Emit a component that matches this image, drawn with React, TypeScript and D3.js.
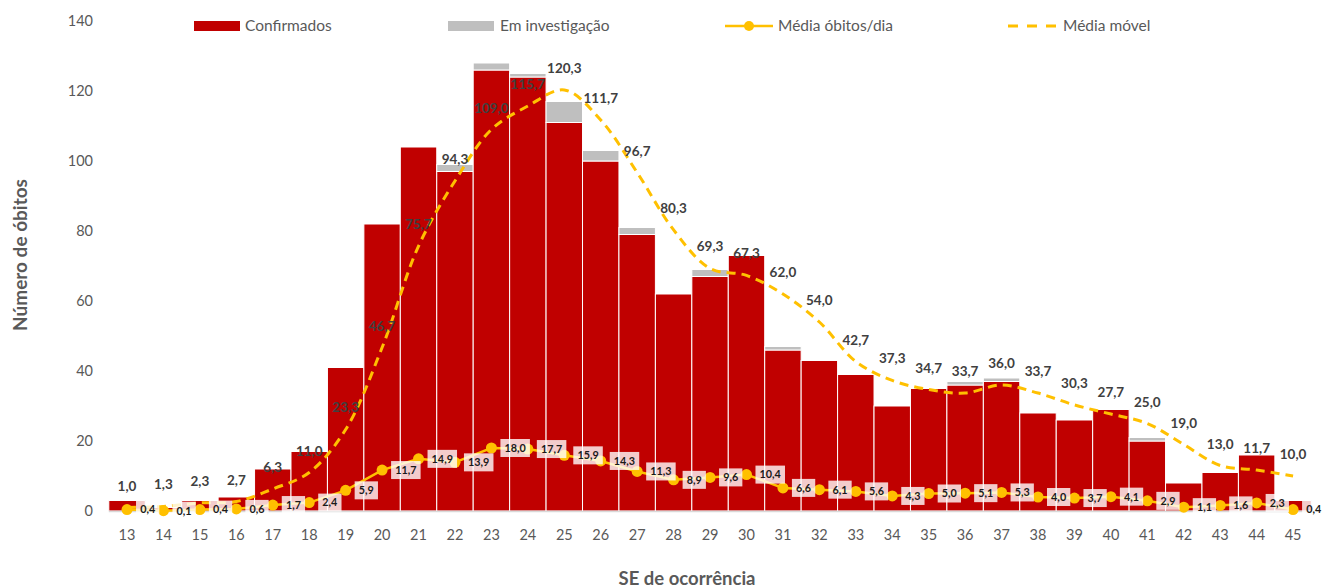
import React from "react";
import * as d3 from "d3";

const weeks = [13,14,15,16,17,18,19,20,21,22,23,24,25,26,27,28,29,30,31,32,33,34,35,36,37,38,39,40,41,42,43,44,45];
const confirmados = [3,1,3,4,12,17,41,82,104,97,126,124,111,100,79,62,67,73,46,43,39,30,35,36,37,28,26,29,20,8,11,16,3];
const investigacao = [0,0,0,0,0,0,0,0,0,2,2,1,6,3,2,0,2,0,1,0,0,0,0,1,1,0,0,0,1,0,0,0,0];
const mediaDia = [0.4,0.1,0.4,0.6,1.7,2.4,5.9,11.7,14.9,13.9,18.0,17.7,15.9,14.3,11.3,8.9,9.6,10.4,6.6,6.1,5.6,4.3,5.0,5.1,5.3,4.0,3.7,4.1,2.9,1.1,1.6,2.3,0.4];
const mediaMovel = [1.0,1.3,2.3,2.7,6.3,11.0,23.3,46.7,75.7,94.3,109.0,115.7,120.3,111.7,96.7,80.3,69.3,67.3,62.0,54.0,42.7,37.3,34.7,33.7,36.0,33.7,30.3,27.7,25.0,19.0,13.0,11.7,10.0];
const yTicks = [0,20,40,60,80,100,120,140];

const W = 1322, H = 588;
const FONT = "Lato, 'Open Sans', sans-serif";
const RED = "#C00000", GREY = "#BFBFBF", GOLD = "#FFC000";
const TXT = "#595959";

const fmt = (v: number) => v.toFixed(1).replace(".", ",");

export default function App() {
  const x = d3.scaleBand<number>().domain(weeks).range([108.8, 1311.3]).padding(0);
  const y = d3.scaleLinear().domain([0, 140]).range([511, 21]);
  const cx = (w: number) => (x(w) as number) + x.bandwidth() / 2;

  const movLine = d3.line<number>()
    .x((_, i) => cx(weeks[i]))
    .y((d) => y(d))
    .curve(d3.curveCatmullRom.alpha(0.5));
  const dayLine = d3.line<number>()
    .x((_, i) => cx(weeks[i]))
    .y((d) => y(d));

  const charW = (s: string) => {
    let w = 0;
    for (const c of s) w += c === "," ? 2.9 : 6.2;
    return w;
  };

  return (
    <svg width={W} height={H} style={{ position: "absolute", left: 0, top: 0, background: "#fff" }} fontFamily={FONT}>
      {yTicks.map((t) => (
        <text key={t} x={93} y={y(t)} dy="0.35em" textAnchor="end" fontSize={14.5} fill={TXT}>{t}</text>
      ))}
      {weeks.map((w, i) => (
        <g key={w}>
          <rect x={x(w)} y={y(confirmados[i])} width={x.bandwidth()} height={y(0) - y(confirmados[i])}
            fill={RED} stroke="#fff" strokeWidth={1} />
          {investigacao[i] > 0 && (
            <rect x={x(w)} y={y(confirmados[i] + investigacao[i])} width={x.bandwidth()}
              height={y(confirmados[i]) - y(confirmados[i] + investigacao[i])}
              fill={GREY} stroke="#fff" strokeWidth={1} />
          )}
        </g>
      ))}
      <line x1={108.8} x2={1311.3} y1={511.5} y2={511.5} stroke="#D9D9D9" strokeWidth={1.5} />
      {weeks.map((w) => (
        <text key={w} x={cx(w)} y={540} textAnchor="middle" fontSize={14.5} fill={TXT}>{w}</text>
      ))}
      <path d={movLine(mediaMovel) || ""} fill="none" stroke={GOLD} strokeWidth={3} strokeDasharray="9,6" />
      <path d={dayLine(mediaDia) || ""} fill="none" stroke={GOLD} strokeWidth={2.5} />
      {mediaDia.map((v, i) => (
        <circle key={i} cx={cx(weeks[i])} cy={y(v)} r={5.5} fill={GOLD} />
      ))}
      {mediaMovel.map((v, i) => (
        <text key={i} x={cx(weeks[i])} y={y(v) - 17} textAnchor="middle" fontSize={13.5} fontWeight={700} fill="#404040">{fmt(v)}</text>
      ))}
      {mediaDia.map((v, i) => {
        const s = fmt(v);
        const tw = charW(s);
        const bx = cx(weeks[i]) + 9;
        const bw = tw + 8;
        return (
          <g key={i}>
            <rect x={bx} y={y(v) - 9} width={bw} height={18} fill="#fff" fillOpacity={0.8} />
            <text x={bx + bw / 2} y={y(v)} dy="0.36em" textAnchor="middle" fontSize={10.8} fontWeight={700} fill="#1a1a1a">{s}</text>
          </g>
        );
      })}
      <text transform={`translate(27,255) rotate(-90)`} textAnchor="middle" fontSize={19} fontWeight={700} fill={TXT}>Número de óbitos</text>
      <text x={687} y={585} textAnchor="middle" fontSize={18.5} fontWeight={700} fill={TXT}>SE de ocorrência</text>
      <rect x={194} y={21} width={46} height={10} fill={RED} />
      <text x={245} y={26} dy="0.35em" fontSize={15.5} fill={TXT}>Confirmados</text>
      <rect x={448} y={21} width={46} height={10} fill={GREY} />
      <text x={500} y={26} dy="0.35em" fontSize={15.5} fill={TXT}>Em investigação</text>
      <line x1={725} x2={773} y1={26} y2={26} stroke={GOLD} strokeWidth={2.5} />
      <circle cx={749} cy={26} r={5} fill={GOLD} />
      <text x={778} y={26} dy="0.35em" fontSize={15.5} fill={TXT}>Média óbitos/dia</text>
      <line x1={1008} x2={1057} y1={26} y2={26} stroke={GOLD} strokeWidth={3} strokeDasharray="10,9" />
      <text x={1063} y={26} dy="0.35em" fontSize={15.5} fill={TXT}>Média móvel</text>
    </svg>
  );
}
